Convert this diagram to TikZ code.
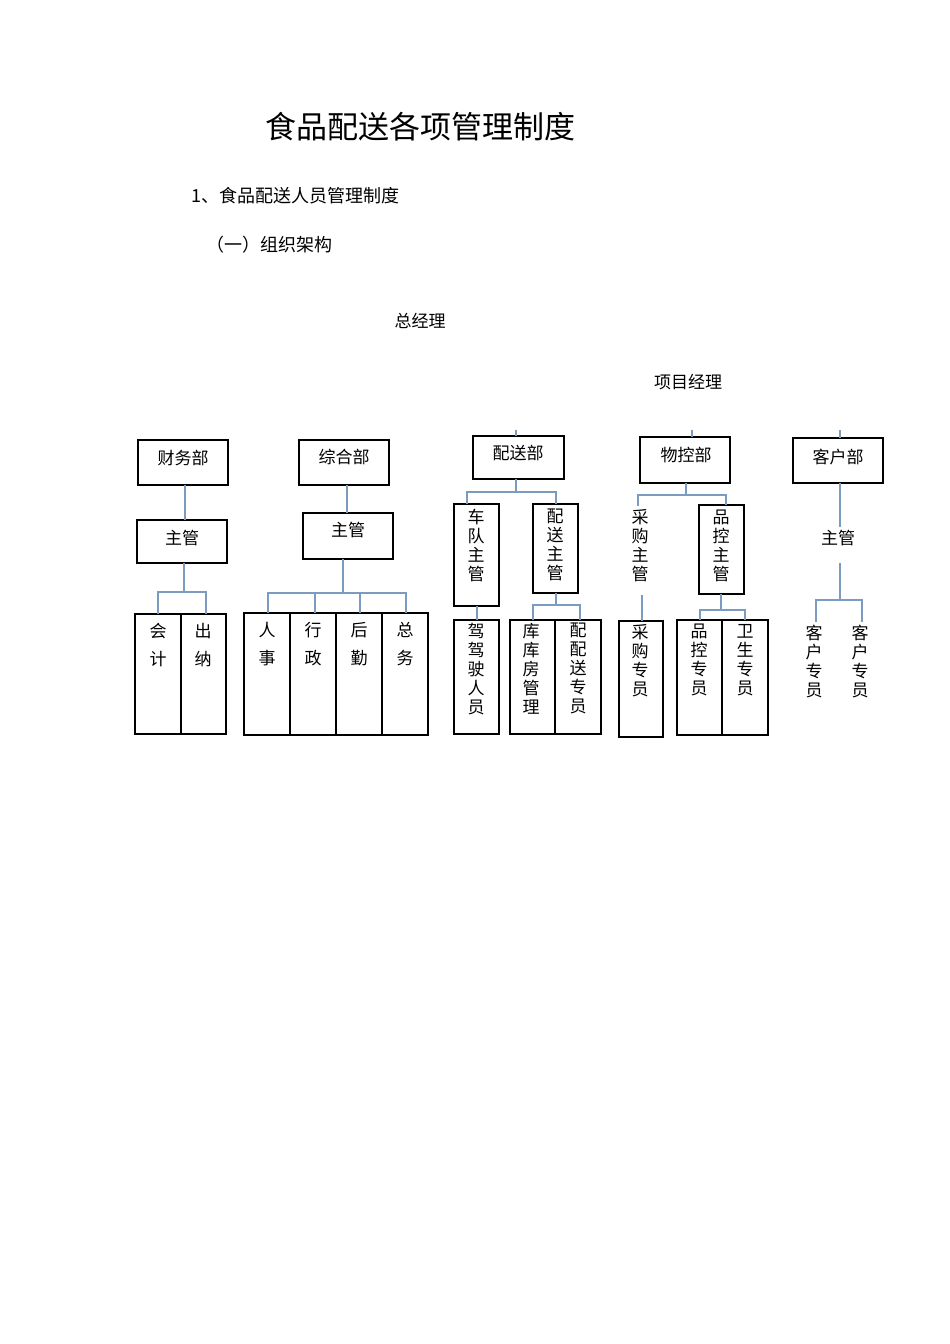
\documentclass[tikz,border=0pt]{standalone}
\usepackage{fontspec}
\setmainfont{Noto Sans CJK SC}
\begin{document}
\begin{tikzpicture}[x=1pt,y=-1pt,
  box/.style={draw=black,line width=1.2pt,inner sep=0pt},
  conn/.style={draw={rgb,255:red,122;green,156;blue,192},line width=2.6pt},
  t/.style={font=\fontsize{17}{19}\selectfont,inner sep=0pt,align=center,anchor=north},
  tw/.style={font=\fontsize{17}{19}\selectfont,inner sep=0pt}]
\fill[white] (0,0) rectangle (950,1344);
\newcommand\bx[5]{\node[box,minimum width={(#4-#2)*1pt},minimum height={(#5-#3)*1pt}] (#1) at ({(#2+#4)/2},{(#3+#5)/2}) {};}
\node[font=\fontsize{31}{31}\selectfont] (title) at (420,127) {食品配送各项管理制度};
\node[font=\fontsize{18}{18}\selectfont,anchor=west] (h1) at (188,196) {1、食品配送人员管理制度};
\node[font=\fontsize{18}{18}\selectfont,anchor=west] (h2) at (203,245) {（一）组织架构};
\node[tw] (gm) at (420,321) {总经理};
\node[tw] (pm) at (688,382) {项目经理};
% 财务部
\bx{cw}{138}{440}{228}{485}\node[tw] at (183,458) {财务部};
\bx{cwz}{137}{520}{227}{563}\node[tw] at (182,538) {主管};
\bx{kj}{135}{614}{181}{734}\node[t] at (158,623) {会\\[9pt]计};
\bx{cn}{181}{614}{226}{734}\node[t] at (203,623) {出\\[9pt]纳};
\draw[conn] (185,485) -- (185,520);
\draw[conn] (184,563) -- (184,592);
\draw[conn] (158,614) |- (206,592) -- (206,614);
% 综合部
\bx{zh}{299}{440}{389}{485}\node[tw] at (344,457) {综合部};
\bx{zhz}{303}{513}{393}{559}\node[tw] at (348,530) {主管};
\foreach \n/\a/\b/\c in {rs/244/290/人\\[9pt]事, xz/290/336/行\\[9pt]政, hq/336/382/后\\[9pt]勤, zw/382/428/总\\[9pt]务}{
  \bx{\n}{\a}{613}{\b}{735}\node[t] at ({(\a+\b)/2},622) {\c};}
\draw[conn] (347,485) -- (347,513);
\draw[conn] (343,559) -- (343,593);
\draw[conn] (268,613) |- (406,593) -- (406,613);
\draw[conn] (315,593) -- (315,613); \draw[conn] (360,593) -- (360,613);
% 配送部
\bx{ps}{473}{436}{564}{479}\node[tw] at (518,453) {配送部};
\bx{cd}{454}{504}{499}{606}\node[t] at (476,509) {车\\队\\主\\管};
\bx{pz}{533}{504}{578}{593}\node[t] at (555,509) {配\\送\\主\\管};
\bx{js}{454}{620}{499}{734}\node[t] at (476,623) {驾\\驾\\驶\\人\\员};
\bx{kf}{510}{620}{555}{734}\node[t] at (531,623) {库\\库\\房\\管\\理};
\bx{pzy}{555}{620}{601}{734}\node[t] at (578,623) {配\\配\\送\\专\\员};
\draw[conn] (516,430) -- (516,436);
\draw[conn] (516,479) -- (516,492);
\draw[conn] (467,504) |- (556,492) -- (556,504);
\draw[conn] (477,606) -- (477,620);
\draw[conn] (556,593) -- (556,605);
\draw[conn] (533,620) |- (580,605) -- (580,620);
% 物控部
\bx{wk}{640}{437}{730}{483}\node[tw] at (686,455) {物控部};
\node[t] (cgz) at (640,509) {采\\购\\主\\管};
\bx{pkz}{699}{505}{744}{594}\node[t] at (721,510) {品\\控\\主\\管};
\bx{cgy}{619}{621}{663}{737}\node[t] at (640,624) {采\\购\\专\\员};
\bx{pky}{677}{620}{722}{735}\node[t] at (699,624) {品\\控\\专\\员};
\bx{wsy}{722}{620}{768}{735}\node[t] at (745,624) {卫\\生\\专\\员};
\draw[conn] (692,430) -- (692,437);
\draw[conn] (686,483) -- (686,495);
\draw[conn] (638,506) |- (726,495) -- (726,505);
\draw[conn] (642,595) -- (642,621);
\draw[conn] (721,594) -- (721,610);
\draw[conn] (700,620) |- (745,610) -- (745,620);
% 客户部
\bx{kh}{793}{438}{883}{483}\node[tw] at (838,457) {客户部};
\node[tw] (khz) at (838,538) {主管};
\node[t] (k1) at (814,625) {客\\户\\专\\员};
\node[t] (k2) at (860,625) {客\\户\\专\\员};
\draw[conn] (840,430) -- (840,438);
\draw[conn] (840,483) -- (840,527);
\draw[conn] (840,563) -- (840,600);
\draw[conn] (816,622) |- (862,600) -- (862,622);
\end{tikzpicture}
\end{document}
